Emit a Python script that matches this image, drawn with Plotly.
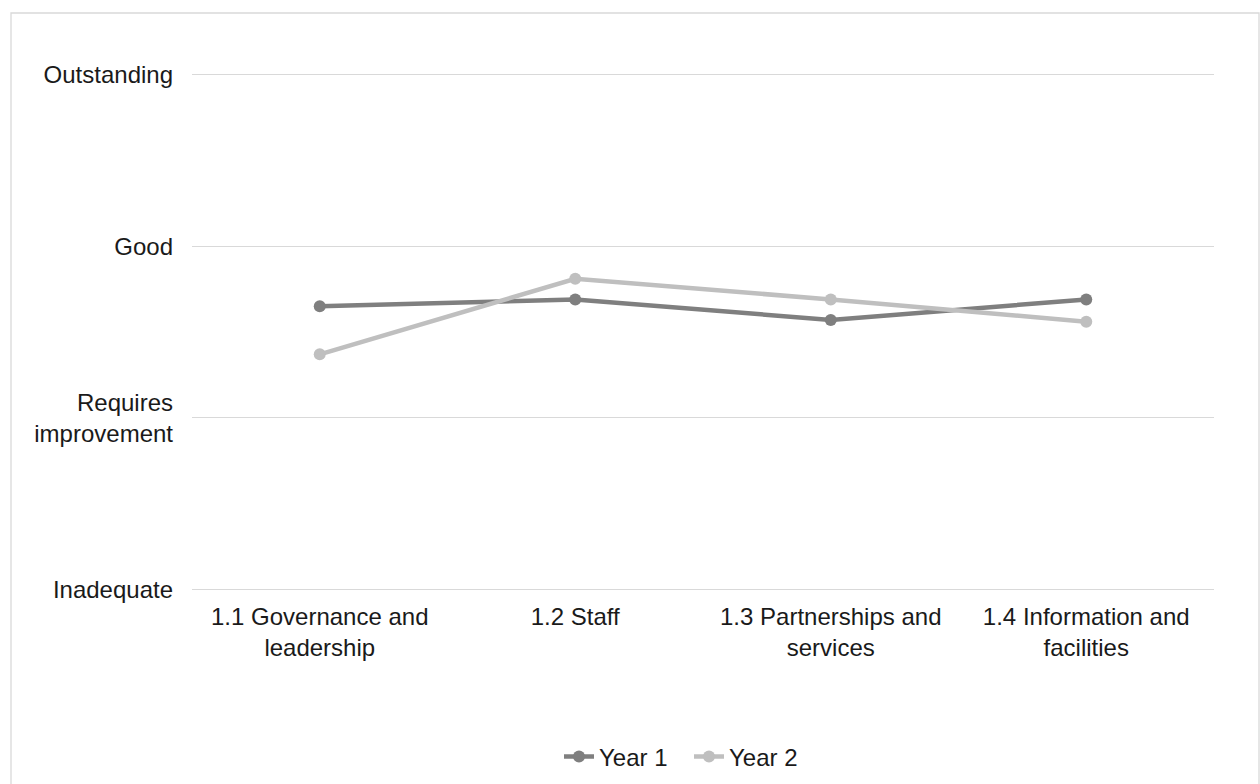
import plotly.graph_objects as go

# Self-assessment ratings per area (1 = Inadequate ... 4 = Outstanding)
categories = [
    "1.1 Governance and<br>leadership",
    "1.2 Staff",
    "1.3 Partnerships and<br>services",
    "1.4 Information and<br>facilities",
]
year1 = [2.65, 2.69, 2.57, 2.69]
year2 = [2.37, 2.81, 2.69, 2.56]

rating_values = [1, 2, 3, 4]
rating_labels = ["Inadequate", "Requires<br>improvement", "Good", "Outstanding"]

FONT = "Liberation Sans, Arial, sans-serif"
TEXT = "#1a1a1a"
GRID = "#d9d9d9"
SIZE = 24

fig = go.Figure()
fig.add_trace(go.Scatter(
    x=categories, y=year1, name="Year 1", mode="lines+markers",
    line=dict(color="#7f7f7f", width=4.5),
    marker=dict(color="#7f7f7f", size=12),
))
fig.add_trace(go.Scatter(
    x=categories, y=year2, name="Year 2", mode="lines+markers",
    line=dict(color="#bfbfbf", width=4.5),
    marker=dict(color="#bfbfbf", size=12),
))

# plot area: 1..4 spans pixels 589 -> 75, with a small pad so end gridlines draw
TOP, BOT = 73, 193
PH = 784 - TOP - BOT


def py(pix):
    """Paper y-coordinate for a pixel row."""
    return (784 - BOT - pix) / PH


fig.update_layout(
    width=1260, height=784,
    margin=dict(l=192, r=46, t=TOP, b=BOT, autoexpand=False),
    paper_bgcolor="white", plot_bgcolor="white",
    font=dict(family=FONT, size=SIZE, color=TEXT),
    showlegend=True,
    legend=dict(
        orientation="h", xref="paper", x=(689 - 192) / 1022, xanchor="center",
        yref="container", y=(784 - 757) / 784, yanchor="middle",
        font=dict(family=FONT, size=SIZE, color=TEXT),
        itemwidth=30, entrywidth=85, entrywidthmode="pixels",
    ),
    xaxis=dict(
        type="category", range=[-0.5, 3.5], automargin=False,
        showgrid=False, zeroline=False, showline=False,
        ticks="", ticklabelstandoff=9,
        tickfont=dict(family=FONT, size=SIZE, color=TEXT),
    ),
    yaxis=dict(
        range=[0.99, 4.01], tickvals=rating_values, ticktext=rating_labels,
        automargin=False,
        showgrid=True, gridcolor=GRID, gridwidth=1.3,
        zeroline=False, showline=False, ticks="",
        ticklabelstandoff=18,
        tickfont=dict(family=FONT, size=SIZE, color=TEXT),
    ),
    shapes=[dict(
        type="rect", xref="paper", yref="paper",
        x0=(11 - 192) / 1022, x1=(1259 - 192) / 1022,
        y0=py(820), y1=py(13),
        line=dict(color=GRID, width=1.3), fillcolor="rgba(0,0,0,0)",
        layer="below",
    )],
)

fig.write_html("out.html")
